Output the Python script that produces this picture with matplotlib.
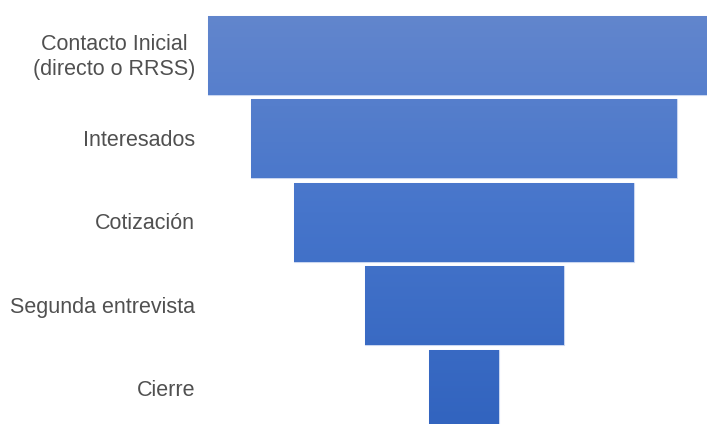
import numpy as np
import matplotlib
matplotlib.use("Agg")
import matplotlib.pyplot as plt
from matplotlib.colors import LinearSegmentedColormap
from matplotlib.patches import Rectangle

stages = ["Contacto Inicial\n(directo o RRSS)", "Interesados", "Cotización",
          "Segunda entrevista", "Cierre"]
values = [512, 426, 340, 199, 70]

plt.rcParams["font.family"] = ["Liberation Sans", "DejaVu Sans"]

fig = plt.figure(figsize=(7.07, 4.24), dpi=100)
ax = fig.add_axes([0, 0, 1, 1])
ax.set_xlim(-464, 243)
ax.set_ylim(4.419, -0.659)
ax.axis("off")

# vertical gradient, light at the top of the funnel, darker at the bottom
cmap = LinearSegmentedColormap.from_list("funnel", ["#6487CD", "#4675CB", "#3264BF"])
grad = np.linspace(0, 1, 256).reshape(-1, 1)

h = 0.946
for i, (name, v) in enumerate(zip(stages, values)):
    rect = Rectangle((-v / 2, i - h / 2), v, h, facecolor="none",
                     edgecolor="#c9d6f0", lw=0.8)
    ax.add_patch(rect)
    im = ax.imshow(grad, cmap=cmap, aspect="auto",
                   extent=(-464, 243, 4.419, -0.659), zorder=1)
    im.set_clip_path(rect)
    ax.text(0.276, i + 0.02, name, transform=ax.get_yaxis_transform(),
            ha="right", va="center", ma="center", fontsize=15.5,
            color="#505050", linespacing=1.25)

ax.set_xlim(-464, 243)
ax.set_ylim(4.419, -0.659)
fig.savefig("out.png", dpi=100)
